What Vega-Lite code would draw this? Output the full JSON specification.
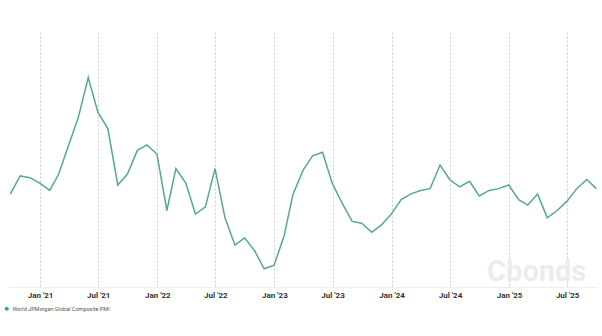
{
  "$schema": "https://vega.github.io/schema/vega-lite/v6.json",
  "width": 589,
  "height": 255,
  "autosize": {"type": "none"},
  "padding": {"left": 8, "top": 32, "right": 5, "bottom": 49},
  "background": "white",
  "config": {"view": {"stroke": null}, "font": "Roboto"},
  "data": {
    "values": [
      {"date": "2020-09-30", "value": 52.1, "series": "World JPMorgan Global Composite PMI"},
      {"date": "2020-10-31", "value": 53.1, "series": "World JPMorgan Global Composite PMI"},
      {"date": "2020-11-30", "value": 53.0, "series": "World JPMorgan Global Composite PMI"},
      {"date": "2020-12-31", "value": 52.7, "series": "World JPMorgan Global Composite PMI"},
      {"date": "2021-01-31", "value": 52.3, "series": "World JPMorgan Global Composite PMI"},
      {"date": "2021-02-28", "value": 53.2, "series": "World JPMorgan Global Composite PMI"},
      {"date": "2021-03-31", "value": 54.8, "series": "World JPMorgan Global Composite PMI"},
      {"date": "2021-04-30", "value": 56.3, "series": "World JPMorgan Global Composite PMI"},
      {"date": "2021-05-31", "value": 58.5, "series": "World JPMorgan Global Composite PMI"},
      {"date": "2021-06-30", "value": 56.6, "series": "World JPMorgan Global Composite PMI"},
      {"date": "2021-07-31", "value": 55.7, "series": "World JPMorgan Global Composite PMI"},
      {"date": "2021-08-31", "value": 52.6, "series": "World JPMorgan Global Composite PMI"},
      {"date": "2021-09-30", "value": 53.2, "series": "World JPMorgan Global Composite PMI"},
      {"date": "2021-10-31", "value": 54.5, "series": "World JPMorgan Global Composite PMI"},
      {"date": "2021-11-30", "value": 54.8, "series": "World JPMorgan Global Composite PMI"},
      {"date": "2021-12-31", "value": 54.3, "series": "World JPMorgan Global Composite PMI"},
      {"date": "2022-01-31", "value": 51.2, "series": "World JPMorgan Global Composite PMI"},
      {"date": "2022-02-28", "value": 53.5, "series": "World JPMorgan Global Composite PMI"},
      {"date": "2022-03-31", "value": 52.7, "series": "World JPMorgan Global Composite PMI"},
      {"date": "2022-04-30", "value": 51.0, "series": "World JPMorgan Global Composite PMI"},
      {"date": "2022-05-31", "value": 51.4, "series": "World JPMorgan Global Composite PMI"},
      {"date": "2022-06-30", "value": 53.5, "series": "World JPMorgan Global Composite PMI"},
      {"date": "2022-07-31", "value": 50.8, "series": "World JPMorgan Global Composite PMI"},
      {"date": "2022-08-31", "value": 49.3, "series": "World JPMorgan Global Composite PMI"},
      {"date": "2022-09-30", "value": 49.7, "series": "World JPMorgan Global Composite PMI"},
      {"date": "2022-10-31", "value": 49.0, "series": "World JPMorgan Global Composite PMI"},
      {"date": "2022-11-30", "value": 48.0, "series": "World JPMorgan Global Composite PMI"},
      {"date": "2022-12-31", "value": 48.2, "series": "World JPMorgan Global Composite PMI"},
      {"date": "2023-01-31", "value": 49.8, "series": "World JPMorgan Global Composite PMI"},
      {"date": "2023-02-28", "value": 52.1, "series": "World JPMorgan Global Composite PMI"},
      {"date": "2023-03-31", "value": 53.4, "series": "World JPMorgan Global Composite PMI"},
      {"date": "2023-04-30", "value": 54.2, "series": "World JPMorgan Global Composite PMI"},
      {"date": "2023-05-31", "value": 54.4, "series": "World JPMorgan Global Composite PMI"},
      {"date": "2023-06-30", "value": 52.7, "series": "World JPMorgan Global Composite PMI"},
      {"date": "2023-07-31", "value": 51.6, "series": "World JPMorgan Global Composite PMI"},
      {"date": "2023-08-31", "value": 50.6, "series": "World JPMorgan Global Composite PMI"},
      {"date": "2023-09-30", "value": 50.5, "series": "World JPMorgan Global Composite PMI"},
      {"date": "2023-10-31", "value": 50.0, "series": "World JPMorgan Global Composite PMI"},
      {"date": "2023-11-30", "value": 50.4, "series": "World JPMorgan Global Composite PMI"},
      {"date": "2023-12-31", "value": 51.0, "series": "World JPMorgan Global Composite PMI"},
      {"date": "2024-01-31", "value": 51.8, "series": "World JPMorgan Global Composite PMI"},
      {"date": "2024-02-29", "value": 52.1, "series": "World JPMorgan Global Composite PMI"},
      {"date": "2024-03-31", "value": 52.3, "series": "World JPMorgan Global Composite PMI"},
      {"date": "2024-04-30", "value": 52.4, "series": "World JPMorgan Global Composite PMI"},
      {"date": "2024-05-31", "value": 53.7, "series": "World JPMorgan Global Composite PMI"},
      {"date": "2024-06-30", "value": 52.9, "series": "World JPMorgan Global Composite PMI"},
      {"date": "2024-07-31", "value": 52.5, "series": "World JPMorgan Global Composite PMI"},
      {"date": "2024-08-31", "value": 52.8, "series": "World JPMorgan Global Composite PMI"},
      {"date": "2024-09-30", "value": 52.0, "series": "World JPMorgan Global Composite PMI"},
      {"date": "2024-10-31", "value": 52.3, "series": "World JPMorgan Global Composite PMI"},
      {"date": "2024-11-30", "value": 52.4, "series": "World JPMorgan Global Composite PMI"},
      {"date": "2024-12-31", "value": 52.6, "series": "World JPMorgan Global Composite PMI"},
      {"date": "2025-01-31", "value": 51.8, "series": "World JPMorgan Global Composite PMI"},
      {"date": "2025-02-28", "value": 51.5, "series": "World JPMorgan Global Composite PMI"},
      {"date": "2025-03-31", "value": 52.1, "series": "World JPMorgan Global Composite PMI"},
      {"date": "2025-04-30", "value": 50.8, "series": "World JPMorgan Global Composite PMI"},
      {"date": "2025-05-31", "value": 51.2, "series": "World JPMorgan Global Composite PMI"},
      {"date": "2025-06-30", "value": 51.7, "series": "World JPMorgan Global Composite PMI"},
      {"date": "2025-07-31", "value": 52.4, "series": "World JPMorgan Global Composite PMI"},
      {"date": "2025-08-31", "value": 52.9, "series": "World JPMorgan Global Composite PMI"},
      {"date": "2025-09-30", "value": 52.4, "series": "World JPMorgan Global Composite PMI"}
    ]
  },
  "encoding": {
    "x": {
      "field": "date",
      "type": "temporal",
      "scale": {"domain": [{"year": 2020, "month": 9, "date": 23}, {"year": 2025, "month": 10, "date": 2}]},
      "axis": {
        "title": null,
        "values": [
          {"year": 2021, "month": 1, "date": 1},
          {"year": 2021, "month": 7, "date": 1},
          {"year": 2022, "month": 1, "date": 1},
          {"year": 2022, "month": 7, "date": 1},
          {"year": 2023, "month": 1, "date": 1},
          {"year": 2023, "month": 7, "date": 1},
          {"year": 2024, "month": 1, "date": 1},
          {"year": 2024, "month": 7, "date": 1},
          {"year": 2025, "month": 1, "date": 1},
          {"year": 2025, "month": 7, "date": 1}
        ],
        "format": "%b '%y",
        "labelFontSize": 8,
        "labelFontWeight": "bold",
        "labelColor": "#333333",
        "labelPadding": 4,
        "ticks": false,
        "grid": true,
        "gridDash": [2, 2],
        "gridColor": "#cccccc",
        "domainColor": "#eeeeee"
      }
    },
    "y": {"field": "value", "type": "quantitative", "scale": {"domain": [47, 61]}, "axis": null}
  },
  "layer": [
    {
      "data": {"values": [{"label": "Cbonds", "date": "2025-03-28", "value": 47.85}]},
      "mark": {"type": "text", "fontSize": 29, "fontWeight": "bold", "color": "#ececec", "align": "center", "baseline": "middle"},
      "encoding": {
        "text": {"field": "label", "type": "nominal"}
      }
    },
    {
      "mark": {"type": "line", "strokeWidth": 1.5},
      "encoding": {
        "color": {
          "field": "series",
          "type": "nominal",
          "scale": {"range": ["#55ab88"]},
          "legend": {
            "title": null,
            "orient": "none",
            "legendX": -4,
            "legendY": 274,
            "symbolType": "circle",
            "symbolSize": 18,
            "symbolFillColor": "#3fa77c",
            "symbolStrokeWidth": 0,
            "labelFontSize": 5.5,
            "labelOffset": 3,
            "labelColor": "#555555"
          }
        }
      }
    }
  ]
}
